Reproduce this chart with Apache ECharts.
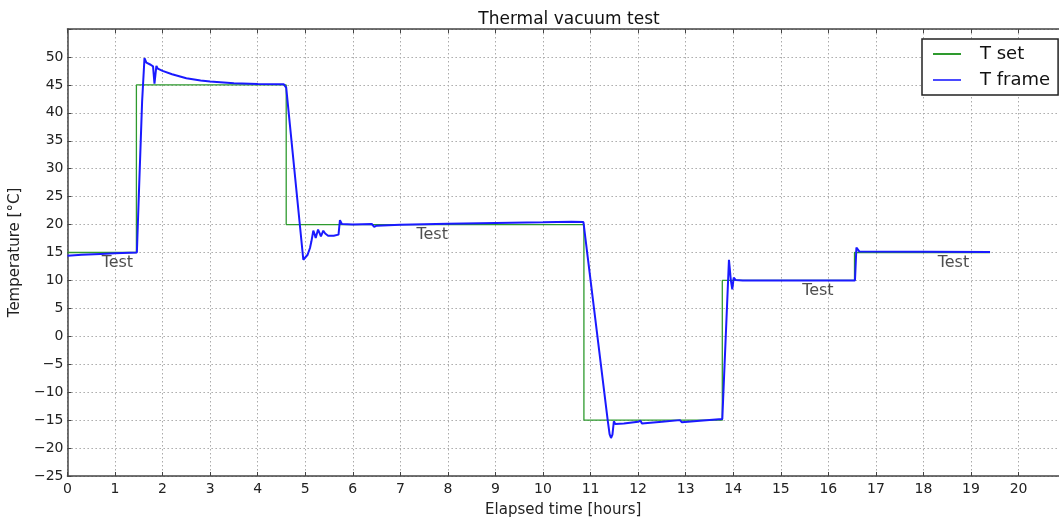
<!DOCTYPE html>
<html><head><meta charset="utf-8">
<script src="https://cdn.jsdelivr.net/npm/echarts@6/dist/echarts.min.js"></script>
<style>html,body{margin:0;padding:0;background:#fff;}#c{width:1059px;height:523px;}</style>
</head><body><div id="c"></div>
<script>
var setX = [0, 1.45, 1.45, 4.6, 4.6, 10.86, 10.86, 13.77, 13.77, 16.55, 16.55, 19.4];
var setY = [15, 15, 45, 45, 20, 20, -15, -15, 10, 10, 15, 15];

var frameX = [0, 0.3, 0.7, 1.0, 1.46, 1.5, 1.57, 1.62, 1.66, 1.75, 1.8, 1.83, 1.87, 1.9, 2.0, 2.2, 2.5, 2.8, 3.0, 3.5, 4.0, 4.55, 4.6,
  4.96, 5.0, 5.05, 5.1, 5.13, 5.17, 5.2, 5.22, 5.27, 5.3, 5.33, 5.38, 5.42, 5.48, 5.6, 5.7, 5.73, 5.77, 5.8, 6.0, 6.4, 6.45, 6.5,
  7.0, 8.0, 9.0, 10.0, 10.6, 10.85, 11.36, 11.4, 11.43, 11.46, 11.49, 11.52, 11.7, 12.0, 12.05, 12.08, 12.5, 12.88, 12.92, 13.3,
  13.77, 13.79, 13.91, 13.95, 13.98, 14.01, 14.05, 14.2, 16.56, 16.59, 16.65, 19.4];
var frameY = [14.4, 14.6, 14.75, 14.85, 15.0, 25, 42, 49.8, 49.0, 48.6, 48.3, 45.2, 48.4, 47.9, 47.5, 46.9, 46.2, 45.8, 45.6, 45.3, 45.15, 45.1, 44.5,
  13.7, 14.0, 14.6, 15.8, 17.0, 18.9, 18.2, 17.6, 19.1, 18.5, 17.9, 18.9, 18.4, 18.0, 18.0, 18.2, 20.8, 20.1, 19.9, 20.0, 20.1, 19.6, 19.8,
  19.95, 20.15, 20.3, 20.4, 20.5, 20.45, -15, -17.5, -18.2, -17.6, -15.2, -15.7, -15.6, -15.3, -15.1, -15.6, -15.3, -15.0, -15.4, -15.1,
  -14.8, -14.8, 13.7, 10.0, 8.4, 10.5, 10.1, 10.0, 10.0, 15.9, 15.2, 15.1];

var testX = [1.05, 7.67, 15.78, 18.63];
var testY = [13.1, 18.1, 8.1, 13.1];
var testText = ['Test', 'Test', 'Test', 'Test'];

var xTicks = {min: 0, max: 20.85, interval: 1};
var yTicks = {min: -25, max: 55, interval: 5};

function zip(a, b) { return a.map(function (v, i) { return [v, b[i]]; }); }
var font = 'DejaVu Sans';
var chart = echarts.init(document.getElementById('c'), null, {renderer: 'canvas'});
chart.setOption({
  animation: false,
  backgroundColor: '#fff',
  title: {text: 'Thermal vacuum test', left: 564, top: 6, textAlign: 'center',
    textStyle: {fontFamily: font, fontSize: 17, fontWeight: 'normal', color: '#111'}},
  grid: {left: 67, right: 0, top: 29, bottom: 46, show: false},
  legend: {
    orient: 'vertical', left: 922, top: 39,
    borderColor: '#222', borderWidth: 1.5, borderRadius: 0,
    padding: [6, 8, 6, 11], itemGap: 8, itemWidth: 28, itemHeight: 2, icon: 'rect',
    backgroundColor: '#fff',
    textStyle: {fontFamily: font, fontSize: 18, color: '#111', padding: [0, 0, 0, 14]},
    data: ['T set', 'T frame']
  },
  xAxis: [{
    type: 'value', min: xTicks.min, max: xTicks.max, interval: xTicks.interval,
    name: 'Elapsed time [hours]', nameLocation: 'middle', nameGap: 27,
    nameTextStyle: {fontFamily: font, fontSize: 15, color: '#222'},
    axisLine: {show: true, onZero: false, lineStyle: {color: '#444', width: 1.5}},
    axisTick: {show: true, inside: true, length: 4, lineStyle: {color: '#444'}},
    axisLabel: {fontFamily: font, fontSize: 14, color: '#222', margin: 6, showMaxLabel: false,
      formatter: function (v) { return v > 20 ? '' : String(v); }},
    splitLine: {show: true, lineStyle: {color: '#aaa', type: [1.5, 2.5], width: 1}}
  }, {
    type: 'value', position: 'top', min: xTicks.min, max: xTicks.max, interval: xTicks.interval,
    axisLine: {show: true, onZero: false, lineStyle: {color: '#444', width: 1.5}}, axisLabel: {show: false},
    axisTick: {show: true, inside: true, length: 4, lineStyle: {color: '#444'}},
    splitLine: {show: false}
  }],
  yAxis: {
    type: 'value', min: yTicks.min, max: yTicks.max, interval: yTicks.interval,
    name: 'Temperature [°C]', nameLocation: 'middle', nameGap: 39, nameRotate: 90,
    nameTextStyle: {fontFamily: font, fontSize: 15, color: '#222'},
    axisLine: {show: true, onZero: false, lineStyle: {color: '#444', width: 1.5}},
    axisTick: {show: true, inside: true, length: 4, lineStyle: {color: '#444'}},
    axisLabel: {fontFamily: font, fontSize: 14, color: '#222', margin: 4,
      formatter: function (v) { return v >= 55 ? '' : String(v).replace('-', '\u2212'); }},
    splitLine: {show: true, lineStyle: {color: '#aaa', type: [1.5, 2.5], width: 1}}
  },
  series: [{
    name: 'T set', type: 'line', symbol: 'none', data: zip(setX, setY),
    lineStyle: {color: '#2e9a2e', width: 1.3}, itemStyle: {color: '#2e9a2e'}, z: 2
  }, {
    name: 'T frame', type: 'line', symbol: 'none', data: zip(frameX, frameY),
    lineStyle: {color: '#1a1aff', width: 2}, itemStyle: {color: '#4a4aff'}, z: 3
  }, {
    name: 'labels', type: 'scatter', symbolSize: 0, data: zip(testX, testY), z: 4,
    label: {show: true, position: 'inside', fontFamily: font, fontSize: 16, color: '#222',
      formatter: function (p) { return testText[p.dataIndex]; }},
    silent: true
  }]
});
</script>
</body></html>
